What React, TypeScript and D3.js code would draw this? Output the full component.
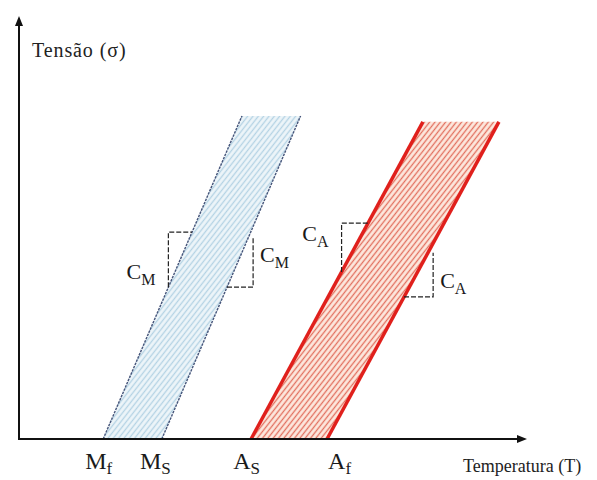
import React from 'react';
import * as d3 from 'd3';

// phase bands: martensite (cooling) and austenite (heating)
const bandKeys = ['mart', 'aust'];
const startTemps = [16.7, 45.7]; // Mf, As
const finishTemps = [28.2, 60.6]; // Ms, Af
const slopes = [2.8, 2.22]; // C_M, C_A
const bandTops = [76.2, 74.8];

// temperature tick labels
const tickMain = ['M', 'M', 'A', 'A'];
const tickSub = ['f', 'S', 'S', 'f'];
const tickTemps = [16.7, 28.2, 45.7, 60.6];

// slope triangles (C_M, C_M, C_A, C_A)
const triBand = [0, 0, 1, 1];
const triSide = ['start', 'finish', 'start', 'finish'];
const triLow = [35.8, 35.8, 39.4, 33.5];
const triHigh = [48.8, 47.4, 50.9, 43.9];
const triRunTo = [0, 46.1, 0, 81.4];
const triLabelSigma = [37.7, 41.7, 46.7, 35.6];
const triSub = ['M', 'M', 'A', 'A'];

const W = 597, H = 480;
const FONT = '"Liberation Serif", "Times New Roman", serif';

export default function App() {
  const x = d3.scaleLinear().domain([0, 100]).range([18, 528]);
  const y = d3.scaleLinear().domain([0, 100]).range([439, 15]);
  const line = d3.line<[number, number]>().x(d => x(d[0])).y(d => y(d[1]));

  const edgeT = (b: number, side: string, s: number) =>
    (side === 'start' ? startTemps[b] : finishTemps[b]) + s / slopes[b];

  const hatch = [
    { bg: '#edf5f9', fg: '#b4d3e4', edge: '#46557a', ew: 1.4, dash: '2.5,1' },
    { bg: '#fde8de', fg: '#e2705f', edge: '#e0201c', ew: 3.5, dash: 'none' },
  ];

  return (
    <svg width={W} height={H} style={{ position: 'absolute', left: 0, top: 0 }} fontFamily={FONT}>
      <defs>
        {bandKeys.map((k, b) => (
          <pattern key={k} id={`hatch-${k}`} patternUnits="userSpaceOnUse" width={4.2} height={10}
            patternTransform="rotate(38)">
            <rect width={4.2} height={10} fill={hatch[b].bg} />
            <line x1={2.1} y1={0} x2={2.1} y2={10} stroke={hatch[b].fg} strokeWidth={1.3} />
          </pattern>
        ))}
      </defs>

      {/* Bands */}
      {bandKeys.map((k, b) => {
        const top = bandTops[b];
        const poly: [number, number][] = [
          [startTemps[b], 0], [finishTemps[b], 0],
          [edgeT(b, 'finish', top), top], [edgeT(b, 'start', top), top],
        ];
        return (
          <g key={k}>
            <path d={line(poly) + 'Z'} fill={`url(#hatch-${k})`} />
            {['start', 'finish'].map(side => (
              <path key={side}
                d={line([[edgeT(b, side, 0), 0], [edgeT(b, side, top), top]]) || ''}
                stroke={hatch[b].edge} strokeWidth={hatch[b].ew} strokeDasharray={hatch[b].dash} fill="none" />
            ))}
          </g>
        );
      })}

      {/* Slope triangles */}
      {triBand.map((b, i) => {
        const side = triSide[i];
        const lo = triLow[i], hi = triHigh[i];
        const t0 = edgeT(b, side, lo);
        const pts: [number, number][] = side === 'start'
          ? [[t0, lo], [t0, hi], [edgeT(b, side, hi), hi]]
          : [[t0, lo], [triRunTo[i], lo], [triRunTo[i], hi]];
        const labelX = side === 'start' ? x(t0) - 13 : x(triRunTo[i]) + 7;
        return (
          <g key={i}>
            <path d={line(pts) || ''} fill="none" stroke="#222" strokeWidth={1.2} strokeDasharray="5,2" />
            <text x={labelX} y={y(triLabelSigma[i])} textAnchor={side === 'start' ? 'end' : 'start'}
              fontSize={22} fill="#1a1a1a">
              C<tspan fontSize={16} dy={6}>{triSub[i]}</tspan>
            </text>
          </g>
        );
      })}

      {/* Axes */}
      <line x1={x(0)} y1={y(0)} x2={x(100) - 8} y2={y(0)} stroke="#111" strokeWidth={2} />
      <path d={`M${x(100) - 1},${y(0)} L${x(100) - 11},${y(0) - 4} L${x(100) - 11},${y(0) + 4}Z`} fill="#111" />
      <line x1={x(0) + 1} y1={y(0) + 1} x2={x(0) + 1} y2={y(100) + 8} stroke="#111" strokeWidth={2} />
      <path d={`M${x(0) + 1},${y(100) + 1} L${x(0) - 3},${y(100) + 11} L${x(0) + 5},${y(100) + 11}Z`} fill="#111" />

      {/* Tick labels */}
      {tickTemps.map((t, i) => {
        const last = i === tickTemps.length - 1;
        return (
          <text key={i} x={last ? x(t) + 1 : x(t) + 9} y={469} textAnchor={last ? 'start' : 'end'}
            fontSize={24} fill="#1a1a1a">
            {tickMain[i]}<tspan fontSize={17} dy={5}>{tickSub[i]}</tspan>
          </text>
        );
      })}

      {/* Axis titles */}
      <text x={32} y={57} fontSize={20} letterSpacing={0.9} fill="#222">Tensão (σ)</text>
      <text x={463} y={472} fontSize={18} fill="#222">Temperatura (T)</text>
    </svg>
  );
}
